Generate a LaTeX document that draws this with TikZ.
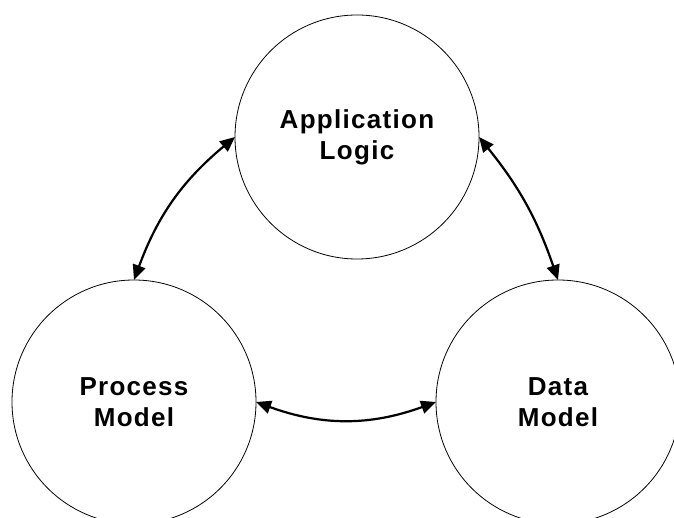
\documentclass[tikz,border=0pt]{standalone}
\usepackage{fontspec}
\newfontfamily\labelfont{Liberation Sans}[LetterSpace=5,UprightFont=*-Bold]
\usetikzlibrary{arrows.meta}
\begin{document}
\begin{tikzpicture}[x=1pt,y=-1pt,
  bubble/.style={circle,draw=black,line width=0.8pt,minimum size=244pt,
    inner sep=0pt,outer sep=0pt,align=center,
    font=\labelfont\fontsize{26}{31}\selectfont},
  link/.style={line width=2.2pt,{Triangle[length=15pt,width=13pt]}-{Triangle[length=15pt,width=13pt]}}]
  \useasboundingbox (0,0) rectangle (674,518);
  % three concepts
  \node[bubble] (app) at (357,137) {Application\\Logic};
  \node[bubble] (proc) at (134,402) {Process\\Model};
  \node[bubble] (data) at (558,402) {Data\\Model};
  % two-way relations between them
  \draw[link] (proc.90) to[bend left=15] (app.180);
  \draw[link] (app.0) to[bend left=10] (data.90);
  \draw[link] (proc.0) to[bend right=20] (data.180);
\end{tikzpicture}
\end{document}
